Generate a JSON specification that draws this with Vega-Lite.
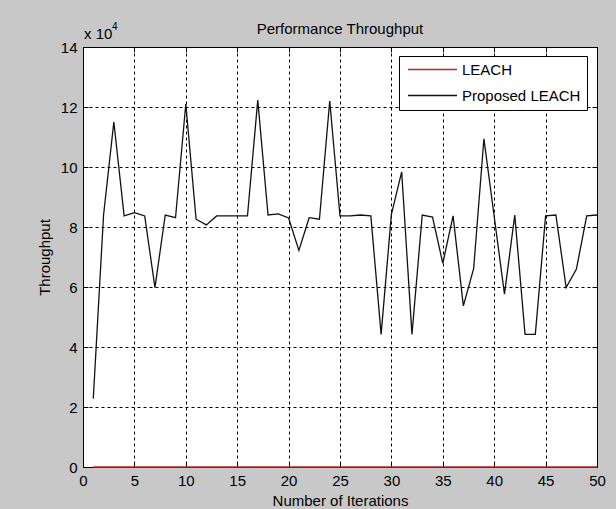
{
  "$schema": "https://vega.github.io/schema/vega-lite/v6.json",
  "autosize": {"type": "none"},
  "width": 514,
  "height": 420,
  "padding": {"left": 83, "top": 47, "right": 19, "bottom": 42},
  "background": "#c8c8c8",
  "config": {
    "font": "Liberation Sans",
    "view": {"fill": "white", "stroke": "black", "strokeWidth": 1},
    "axis": {"labelFont": "Liberation Sans", "titleFont": "Liberation Sans", "labelColor": "black", "titleColor": "black", "labelFontSize": 15, "titleFontSize": 15, "titleFontWeight": "normal"}
  },
  "title": {"text": "Performance Throughput", "font": "Liberation Sans", "fontSize": 15, "fontWeight": "normal", "color": "black", "anchor": "middle", "frame": "group", "baseline": "alphabetic", "offset": -27},
  "datasets": {
    "tp": [
      {"iter": 1, "series": "LEACH", "throughput": 0},
      {"iter": 2, "series": "LEACH", "throughput": 0},
      {"iter": 3, "series": "LEACH", "throughput": 0},
      {"iter": 4, "series": "LEACH", "throughput": 0},
      {"iter": 5, "series": "LEACH", "throughput": 0},
      {"iter": 6, "series": "LEACH", "throughput": 0},
      {"iter": 7, "series": "LEACH", "throughput": 0},
      {"iter": 8, "series": "LEACH", "throughput": 0},
      {"iter": 9, "series": "LEACH", "throughput": 0},
      {"iter": 10, "series": "LEACH", "throughput": 0},
      {"iter": 11, "series": "LEACH", "throughput": 0},
      {"iter": 12, "series": "LEACH", "throughput": 0},
      {"iter": 13, "series": "LEACH", "throughput": 0},
      {"iter": 14, "series": "LEACH", "throughput": 0},
      {"iter": 15, "series": "LEACH", "throughput": 0},
      {"iter": 16, "series": "LEACH", "throughput": 0},
      {"iter": 17, "series": "LEACH", "throughput": 0},
      {"iter": 18, "series": "LEACH", "throughput": 0},
      {"iter": 19, "series": "LEACH", "throughput": 0},
      {"iter": 20, "series": "LEACH", "throughput": 0},
      {"iter": 21, "series": "LEACH", "throughput": 0},
      {"iter": 22, "series": "LEACH", "throughput": 0},
      {"iter": 23, "series": "LEACH", "throughput": 0},
      {"iter": 24, "series": "LEACH", "throughput": 0},
      {"iter": 25, "series": "LEACH", "throughput": 0},
      {"iter": 26, "series": "LEACH", "throughput": 0},
      {"iter": 27, "series": "LEACH", "throughput": 0},
      {"iter": 28, "series": "LEACH", "throughput": 0},
      {"iter": 29, "series": "LEACH", "throughput": 0},
      {"iter": 30, "series": "LEACH", "throughput": 0},
      {"iter": 31, "series": "LEACH", "throughput": 0},
      {"iter": 32, "series": "LEACH", "throughput": 0},
      {"iter": 33, "series": "LEACH", "throughput": 0},
      {"iter": 34, "series": "LEACH", "throughput": 0},
      {"iter": 35, "series": "LEACH", "throughput": 0},
      {"iter": 36, "series": "LEACH", "throughput": 0},
      {"iter": 37, "series": "LEACH", "throughput": 0},
      {"iter": 38, "series": "LEACH", "throughput": 0},
      {"iter": 39, "series": "LEACH", "throughput": 0},
      {"iter": 40, "series": "LEACH", "throughput": 0},
      {"iter": 41, "series": "LEACH", "throughput": 0},
      {"iter": 42, "series": "LEACH", "throughput": 0},
      {"iter": 43, "series": "LEACH", "throughput": 0},
      {"iter": 44, "series": "LEACH", "throughput": 0},
      {"iter": 45, "series": "LEACH", "throughput": 0},
      {"iter": 46, "series": "LEACH", "throughput": 0},
      {"iter": 47, "series": "LEACH", "throughput": 0},
      {"iter": 48, "series": "LEACH", "throughput": 0},
      {"iter": 49, "series": "LEACH", "throughput": 0},
      {"iter": 50, "series": "LEACH", "throughput": 0},
      {"iter": 1, "series": "Proposed LEACH", "throughput": 22800},
      {"iter": 2, "series": "Proposed LEACH", "throughput": 84000},
      {"iter": 3, "series": "Proposed LEACH", "throughput": 115000},
      {"iter": 4, "series": "Proposed LEACH", "throughput": 83700},
      {"iter": 5, "series": "Proposed LEACH", "throughput": 84800},
      {"iter": 6, "series": "Proposed LEACH", "throughput": 83700},
      {"iter": 7, "series": "Proposed LEACH", "throughput": 59800},
      {"iter": 8, "series": "Proposed LEACH", "throughput": 84000},
      {"iter": 9, "series": "Proposed LEACH", "throughput": 83100},
      {"iter": 10, "series": "Proposed LEACH", "throughput": 121000},
      {"iter": 11, "series": "Proposed LEACH", "throughput": 82600},
      {"iter": 12, "series": "Proposed LEACH", "throughput": 80700},
      {"iter": 13, "series": "Proposed LEACH", "throughput": 83700},
      {"iter": 14, "series": "Proposed LEACH", "throughput": 83700},
      {"iter": 15, "series": "Proposed LEACH", "throughput": 83700},
      {"iter": 16, "series": "Proposed LEACH", "throughput": 83700},
      {"iter": 17, "series": "Proposed LEACH", "throughput": 122300},
      {"iter": 18, "series": "Proposed LEACH", "throughput": 84000},
      {"iter": 19, "series": "Proposed LEACH", "throughput": 84400},
      {"iter": 20, "series": "Proposed LEACH", "throughput": 83000},
      {"iter": 21, "series": "Proposed LEACH", "throughput": 72200},
      {"iter": 22, "series": "Proposed LEACH", "throughput": 83100},
      {"iter": 23, "series": "Proposed LEACH", "throughput": 82600},
      {"iter": 24, "series": "Proposed LEACH", "throughput": 122000},
      {"iter": 25, "series": "Proposed LEACH", "throughput": 83700},
      {"iter": 26, "series": "Proposed LEACH", "throughput": 83700},
      {"iter": 27, "series": "Proposed LEACH", "throughput": 84000},
      {"iter": 28, "series": "Proposed LEACH", "throughput": 83700},
      {"iter": 29, "series": "Proposed LEACH", "throughput": 44200},
      {"iter": 30, "series": "Proposed LEACH", "throughput": 84200},
      {"iter": 31, "series": "Proposed LEACH", "throughput": 98400},
      {"iter": 32, "series": "Proposed LEACH", "throughput": 44200},
      {"iter": 33, "series": "Proposed LEACH", "throughput": 84000},
      {"iter": 34, "series": "Proposed LEACH", "throughput": 83300},
      {"iter": 35, "series": "Proposed LEACH", "throughput": 67900},
      {"iter": 36, "series": "Proposed LEACH", "throughput": 83700},
      {"iter": 37, "series": "Proposed LEACH", "throughput": 53700},
      {"iter": 38, "series": "Proposed LEACH", "throughput": 66100},
      {"iter": 39, "series": "Proposed LEACH", "throughput": 109400},
      {"iter": 40, "series": "Proposed LEACH", "throughput": 83500},
      {"iter": 41, "series": "Proposed LEACH", "throughput": 57600},
      {"iter": 42, "series": "Proposed LEACH", "throughput": 84000},
      {"iter": 43, "series": "Proposed LEACH", "throughput": 44200},
      {"iter": 44, "series": "Proposed LEACH", "throughput": 44200},
      {"iter": 45, "series": "Proposed LEACH", "throughput": 83700},
      {"iter": 46, "series": "Proposed LEACH", "throughput": 84000},
      {"iter": 47, "series": "Proposed LEACH", "throughput": 59800},
      {"iter": 48, "series": "Proposed LEACH", "throughput": 66000},
      {"iter": 49, "series": "Proposed LEACH", "throughput": 83700},
      {"iter": 50, "series": "Proposed LEACH", "throughput": 84000}
    ],
    "notes": [
      {"label": "x 10", "xpos": 0, "ypos": 140000}
    ]
  },
  "resolve": {"axis": {"x": "independent", "y": "independent"}},
  "layer": [
    {
      "data": {"name": "tp"},
      "mark": {"type": "line", "strokeWidth": 1.3},
      "encoding": {
        "x": {"field": "iter", "type": "quantitative", "scale": {"domain": [0, 50], "nice": false},
          "axis": {"orient": "bottom", "values": [0, 5, 10, 15, 20, 25, 30, 35, 40, 45, 50], "title": "Number of Iterations", "grid": true, "gridColor": "black", "gridOpacity": 1, "gridDash": [3, 3], "gridWidth": 1, "domain": false, "tickSize": -5, "tickColor": "black", "labelPadding": 11, "labelFlush": false, "titleY": 38, "titleBaseline": "alphabetic"}},
        "y": {"field": "throughput", "type": "quantitative", "scale": {"domain": [0, 140000], "nice": false},
          "axis": {"orient": "left", "values": [0, 20000, 40000, 60000, 80000, 100000, 120000, 140000], "labelExpr": "datum.value / 10000", "title": "Throughput", "grid": true, "gridColor": "black", "gridOpacity": 1, "gridDash": [3, 3], "gridWidth": 1, "domain": false, "tickSize": -5, "tickColor": "black", "labelPadding": 11, "labelFlush": false, "titleX": -39, "titleBaseline": "middle"}},
        "color": {"field": "series", "type": "nominal", "scale": {"domain": ["LEACH", "Proposed LEACH"], "range": ["#b52a2a", "#111111"]},
          "legend": {"title": null, "orient": "none", "legendX": 316, "legendY": 9, "fillColor": "white", "strokeColor": "black", "padding": 6, "symbolType": "stroke", "symbolSize": 2400, "symbolStrokeWidth": 1.3, "symbolOffset": 2, "labelOffset": 4, "labelFont": "Liberation Sans", "labelFontSize": 15, "labelColor": "black", "clipHeight": 15, "rowPadding": 10, "labelLimit": 300}}
      }
    },
    {
      "data": {"name": "tp"},
      "mark": {"type": "line", "strokeOpacity": 0},
      "encoding": {
        "x": {"field": "iter", "type": "quantitative",
          "axis": {"orient": "top", "values": [0, 5, 10, 15, 20, 25, 30, 35, 40, 45, 50], "labels": false, "title": null, "grid": false, "domain": false, "tickSize": -5, "tickColor": "black"}},
        "y": {"field": "throughput", "type": "quantitative",
          "axis": {"orient": "right", "values": [0, 20000, 40000, 60000, 80000, 100000, 120000, 140000], "labels": false, "title": null, "grid": false, "domain": false, "tickSize": -5, "tickColor": "black"}},
        "detail": {"field": "series"}
      }
    },
    {
      "data": {"name": "notes"},
      "mark": {"type": "text", "align": "left", "baseline": "alphabetic", "dx": 1, "dy": -8, "fontSize": 15, "font": "Liberation Sans", "color": "black"},
      "encoding": {
        "x": {"field": "xpos", "type": "quantitative", "axis": null},
        "y": {"field": "ypos", "type": "quantitative", "axis": null},
        "text": {"field": "label"}
      }
    },
    {
      "data": {"name": "notes"},
      "mark": {"type": "text", "align": "left", "baseline": "alphabetic", "dx": 29, "dy": -17, "fontSize": 10, "font": "Liberation Sans", "color": "black"},
      "encoding": {
        "x": {"field": "xpos", "type": "quantitative", "axis": null},
        "y": {"field": "ypos", "type": "quantitative", "axis": null},
        "text": {"value": "4"}
      }
    }
  ]
}
